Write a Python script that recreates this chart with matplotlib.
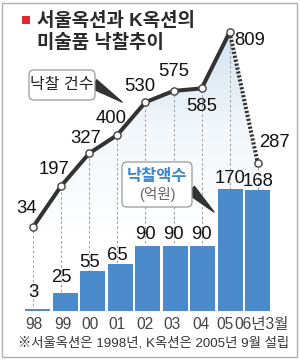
import numpy as np
import matplotlib
matplotlib.use("Agg")
import matplotlib.pyplot as plt
from matplotlib.patches import Rectangle, FancyBboxPatch, Polygon
from matplotlib.colors import LinearSegmentedColormap
from matplotlib.transforms import ScaledTranslation

# data
years = ["98", "99", "00", "01", "02", "03", "04", "05", "06년3월"]
counts = [34, 197, 327, 400, 530, 575, 585, 809, 287]      # 낙찰 건수
amounts = [3, 25, 55, 65, 90, 90, 90, 170, 168]             # 낙찰액수 (억원)

KR = ["Liberation Sans", "Noto Sans CJK KR"]
plt.rcParams["font.family"] = KR

W, H = 300, 360
fig = plt.figure(figsize=(W / 100, H / 100), dpi=100)
fig.patch.set_facecolor("white")
inch = fig.dpi_scale_trans


def P(x, y):
    # pixel (from top-left) -> inches for dpi_scale_trans
    return x / 100, (H - y) / 100


# axes frame in pixels
L, R, T, B = 10, 290, 10, 311
rect = [L / W, (H - B) / H, (R - L) / W, (B - T) / H]

# scales (pixels per unit)
bar_x0, bar_dx = 37.5, 27.56
line_x0, line_dx = 33.0, 28.1
bar_k = 0.72
line_zero, line_k = 235.6, 0.2516

ax_line = fig.add_axes(rect)
ax_bar = fig.add_axes(rect)
for a in (ax_line, ax_bar):
    a.set_facecolor("none")
    for s in a.spines.values():
        s.set_visible(False)
    a.set_yticks([])
ax_bar.set_xticks([])

ax_line.set_xlim((L - line_x0) / line_dx, (R - line_x0) / line_dx)
ax_line.set_ylim((line_zero - B) / line_k, (line_zero - T) / line_k)
ax_bar.set_xlim((L - bar_x0) / bar_dx, (R - bar_x0) / bar_dx)
ax_bar.set_ylim(0, (B - T) / bar_k)

xi = np.arange(len(years))
ybot = ax_line.get_ylim()[0]

# gradient fill under the line
poly = np.column_stack([np.r_[xi, xi[-1], xi[0]], np.r_[counts, ybot, ybot]])
clip = Polygon(poly, closed=True, transform=ax_line.transData, fc="none", ec="none")
ax_line.add_patch(clip)
cmap = LinearSegmentedColormap.from_list("fade", ["#ffffff", "#f2f7fb", "#cfe1ef"])
grad = np.linspace(0, 1, 256).reshape(-1, 1)
x0, x1 = ax_line.get_xlim()
im = ax_line.imshow(grad, cmap=cmap, origin="lower", aspect="auto",
                    extent=[x0, x1, 0, 850], zorder=0)
im.set_clip_path(clip)
ax_line.set_xlim(x0, x1)
ax_line.set_ylim(ybot, ax_line.get_ylim()[1])

# dashed drop lines
ax_line.vlines(xi, ybot, counts, colors="#9a9a9a", linewidth=0.7,
               linestyles=(0, (2.5, 2.5)), zorder=1)

# line
ax_line.plot(xi[:-1], counts[:-1], color="#333333", lw=2.9, zorder=3,
             solid_capstyle="round", solid_joinstyle="round")
ax_line.plot(xi[-2:], counts[-2:], color="#333333", lw=2.9, zorder=3,
             linestyle=(0, (0.55, 0.45)))
ax_line.plot(xi, counts, "o", ms=5.2, mfc="white", mec="#444444", mew=1.0, zorder=4)

# line labels (offsets in pixels)
cnt_off = [(-6, 19), (-7, 17), (-4, 15), (-6, 16), (-6, 16), (0, 19), (0, -18), (20, -8), (17, 21)]
for i, v in enumerate(counts):
    dx, dy = cnt_off[i]
    ax_line.annotate(str(v), (i, v), xytext=(dx * 0.72, dy * 0.72),
                     textcoords="offset points", ha="center", va="center",
                     fontsize=13.3, color="#111111", zorder=5)

# bars
ax_bar.bar(xi, amounts, width=0.907, color="#4b8bcb", zorder=2)
bar_dy = [16, 16, 9, 9, 12, 12, 12, 10, 9]
for i, v in enumerate(amounts):
    dx = (line_x0 + line_dx * i) - (bar_x0 + bar_dx * i)
    ax_bar.annotate(str(v), (i, v), xytext=(dx * 0.72, bar_dy[i] * 0.72),
                    textcoords="offset points", ha="center", va="center",
                    fontsize=13.3, color="#111111")

# year labels
ax_line.set_xticks(xi, years)
ax_line.tick_params(axis="x", length=0, pad=4.5, labelsize=11.2, labelcolor="#444444")
tick_dx = [1, 1.5, 1, 0, 0, -1, -1, -5, 31]
for lbl, d in zip(ax_line.get_xticklabels(), tick_dx):
    lbl.set_transform(lbl.get_transform() + ScaledTranslation(d / 100, 0, inch))
ax_line.get_xticklabels()[-1].set_ha("right")

# title
fig.patches.append(Rectangle(P(22, 24), 0.08, 0.08, transform=inch, fc="#e2282e", ec="none"))
fig.text(*P(37, 21), "서울옥션과 K옥션의", transform=inch, fontsize=13.6,
         fontweight="bold", color="#2a2a2a", va="center", ha="left")
fig.text(*P(37, 43), "미술품 낙찰추이", transform=inch, fontsize=13.6,
         fontweight="bold", color="#2a2a2a", va="center", ha="left")

# callout boxes
def callout(x0, y0, x1, y1, start, tip):
    fig.patches.append(FancyBboxPatch(P(x0, y1), (x1 - x0) / 100, (y1 - y0) / 100,
                                      boxstyle="round,pad=0,rounding_size=0.05",
                                      transform=inch, fc="white", ec="#9a9a9a", lw=0.9, zorder=6))
    ax_line.annotate("", xy=P(*tip), xycoords=inch, xytext=P(*start), textcoords=inch,
                     arrowprops=dict(arrowstyle="wedge,tail_width=0.45", mutation_scale=16,
                                     fc="#333333", ec="#333333", shrinkA=0, shrinkB=0),
                     zorder=5, annotation_clip=False)


callout(29, 70, 95, 100, (94, 84), (122, 102))
fig.text(*P(62, 85), "낙찰 건수", transform=inch, fontsize=11.5, color="#222222",
         ha="center", va="center", zorder=7)

callout(122, 162, 192, 207, (191, 190), (214, 212))
fig.text(*P(157, 176), "낙찰액수", transform=inch, fontsize=11.8, fontweight="bold",
         color="#3b88cf", ha="center", va="center", zorder=7)
fig.text(*P(157, 195), "(억원)", transform=inch, fontsize=10.5, color="#666666",
         ha="center", va="center", zorder=7)

# footnote
fig.text(*P(18, 343), "※서울옥션은 1998년, K옥션은 2005년 9월 설립", transform=inch,
         fontsize=9.6, color="#333333", ha="left", va="center")

# border
fig.patches.append(Rectangle(P(2, 357), 2.95, 3.54, transform=inch, fc="none",
                             ec="#b0b0b0", lw=1.0))

fig.savefig("out.png", dpi=100)
